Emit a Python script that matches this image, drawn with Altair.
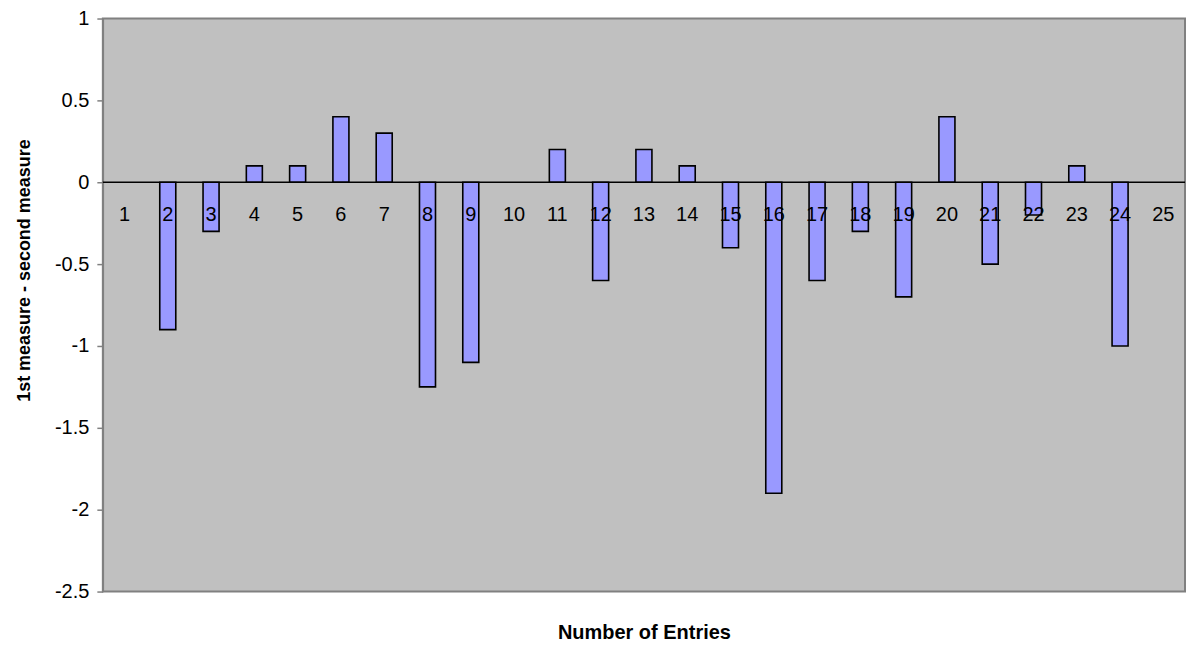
import altair as alt
import pandas as pd

categories = list(range(1, 26))
values = [0, -0.9, -0.3, 0.1, 0.1, 0.4, 0.3, -1.25, -1.1, 0, 0.2, -0.6, 0.2,
          0.1, -0.4, -1.9, -0.6, -0.3, -0.7, 0.4, -0.5, -0.2, 0.1, -1.0, 0]
y_ticks = [1, 0.5, 0, -0.5, -1, -1.5, -2, -2.5]
x_title = "Number of Entries"
y_title = "1st measure - second measure"

df = pd.DataFrame({"cat": categories, "val": values})
zero_df = pd.DataFrame({"z": [0]})

FONT = "Liberation Sans"

xscale = alt.Scale(paddingInner=0.63, paddingOuter=0.315)
yscale = alt.Scale(domain=[-2.5, 1], nice=False, zero=False)

bars = alt.Chart(df).transform_filter("datum.val != 0").mark_bar(
    color="#9999FF", stroke="black", strokeWidth=1.6
).encode(
    x=alt.X("cat:O", scale=xscale,
            axis=alt.Axis(labels=False, ticks=False, domain=False, title=x_title,
                          titleFont=FONT, titleFontSize=20, titleFontWeight="bold",
                          titleY=47, titleBaseline="alphabetic", titleColor="black")),
    y=alt.Y("val:Q", scale=yscale,
            axis=alt.Axis(values=y_ticks, grid=False, title=y_title,
                          labelExpr="toString(datum.value)",
                          labelFont=FONT, labelFontSize=20, labelColor="black",
                          labelPadding=8, tickSize=6, tickColor="#808080",
                          domainColor="#808080", domainWidth=1.5, tickWidth=1.5,
                          titleFont=FONT, titleFontSize=18, titleFontWeight="bold",
                          titleColor="black", titleX=-78, titleY=252,
                          titleAlign="center", titleBaseline="middle")),
)

zero_line = alt.Chart(zero_df).mark_rule(color="black", strokeWidth=1.5).encode(
    y=alt.Y("z:Q", scale=yscale)
)

labels = alt.Chart(df).mark_text(
    font=FONT, fontSize=20, color="black", baseline="middle", align="center", dy=33
).encode(
    x=alt.X("cat:O", scale=xscale),
    y=alt.datum(0),
    text=alt.Text("cat:O"),
)

chart = alt.layer(bars, zero_line, labels).properties(
    width=1084,
    height=574,
    autosize=alt.AutoSizeParams(type="none"),
    padding={"left": 95, "top": 10, "right": 4, "bottom": 55},
    background="white",
).configure_view(
    fill="#C0C0C0", stroke="#808080", strokeWidth=2
)

chart.save("out.html", embed_options={"renderer": "svg", "actions": False})
